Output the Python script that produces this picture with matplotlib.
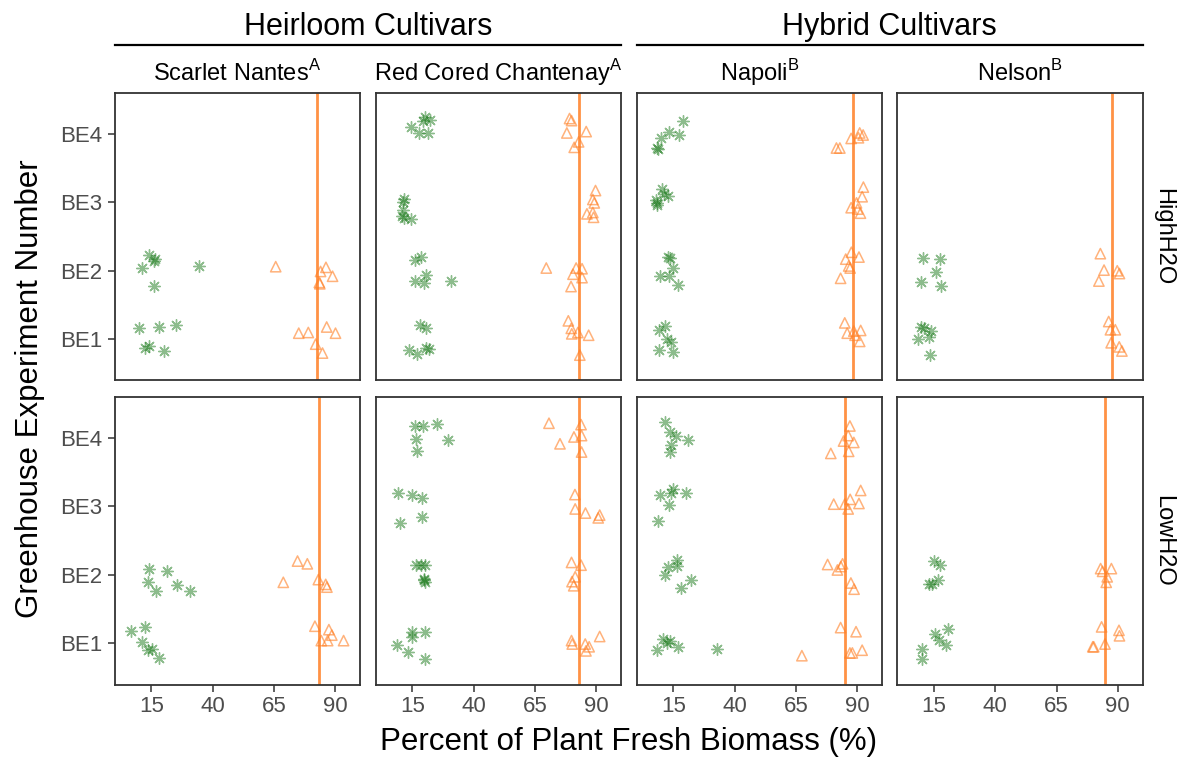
import matplotlib
matplotlib.use("Agg")
import matplotlib.pyplot as plt
from matplotlib.lines import Line2D

plt.rcParams["font.family"] = ["Liberation Sans", "DejaVu Sans"]
plt.rcParams["mathtext.fontset"] = "custom"
plt.rcParams["mathtext.rm"] = "Liberation Sans"

# ---- categories ----
cultivars = ["Scarlet Nantes", "Red Cored Chantenay", "Napoli", "Nelson"]
cultivar_group = ["A", "A", "B", "B"]
cultivar_type = ["Heirloom Cultivars", "Hybrid Cultivars"]
treatments = ["HighH2O", "LowH2O"]
experiments = ["BE1", "BE2", "BE3", "BE4"]
x_ticks = [15, 40, 65, 90]

# ---- mean root percentage per panel (vertical reference lines) ----
root_mean_high = [82.5, 82.9, 88.3, 87.5]
root_mean_low = [83.3, 83.1, 85.2, 84.9]

# ---- tops (green) and roots (orange) percentages, jittered experiment position ----
# Scarlet Nantes, HighH2O
sn_high_tops_x = [13.9, 16.5, 16.1, 11.1, 34.3, 15.9, 10.0, 18.1, 25.1, 12.5, 14.1, 20.0]
sn_high_tops_y = [2.23, 2.17, 2.14, 2.04, 2.07, 1.78, 1.17, 1.18, 1.21, 0.88, 0.91, 0.83]
sn_high_roots_x = [65.7, 86.2, 84.0, 88.9, 83.5, 83.7, 75.1, 79.0, 86.5, 90.1, 82.0, 84.8]
sn_high_roots_y = [2.06, 2.05, 1.99, 1.92, 1.83, 1.81, 1.09, 1.10, 1.18, 1.09, 0.93, 0.80]

# Red Cored Chantenay, HighH2O
rc_high_tops_x = [14.5, 20.3, 19.2, 22.1, 17.6, 21.2, 11.5, 11.2, 11.1, 10.8, 11.5, 14.2,
                  16.2, 18.5, 20.6, 16.2, 19.8, 30.6, 17.9, 20.6, 13.5, 16.9, 20.7, 21.7]
rc_high_tops_y = [4.10, 4.24, 4.18, 4.20, 4.01, 4.01, 3.05, 3.01, 2.89, 2.80, 2.77, 2.76,
                  2.16, 2.20, 1.94, 1.85, 1.82, 1.85, 1.21, 1.17, 0.85, 0.79, 0.87, 0.86]
rc_high_roots_x = [79.1, 79.9, 78.0, 85.9, 82.8, 81.0, 89.7, 88.6, 89.2, 88.6, 86.2, 88.9,
                   69.6, 81.8, 84.2, 80.5, 84.2, 79.7, 78.6, 79.8, 80.0, 82.5, 86.9, 83.3]
rc_high_roots_y = [4.22, 4.19, 4.01, 4.03, 3.88, 3.80, 3.17, 3.04, 2.99, 2.85, 2.83, 2.78,
                   2.04, 2.04, 2.03, 1.95, 1.90, 1.77, 1.27, 1.16, 1.08, 1.10, 1.06, 0.77]

# Napoli, HighH2O
na_high_tops_x = [18.8, 13.0, 17.4, 10.0, 8.4, 8.8, 10.5, 11.1, 12.7, 7.7, 8.4, 8.4,
                  12.6, 13.4, 14.9, 9.6, 13.2, 17.0, 11.7, 8.9, 12.4, 14.1, 9.0, 15.0]
na_high_tops_y = [4.18, 4.03, 3.98, 3.93, 3.79, 3.78, 3.19, 3.12, 3.09, 3.03, 2.99, 2.96,
                  2.20, 2.18, 2.04, 1.92, 1.93, 1.79, 1.19, 1.13, 1.00, 0.96, 0.84, 0.82]
na_high_roots_x = [91.0, 92.4, 90.5, 87.5, 81.5, 82.9, 92.5, 92.0, 89.7, 87.5, 90.2, 91.3,
                   87.6, 85.3, 90.7, 86.5, 87.1, 83.2, 84.9, 85.9, 88.6, 89.1, 91.4, 91.0]
na_high_roots_y = [4.01, 3.98, 3.94, 3.93, 3.79, 3.79, 3.22, 3.08, 2.99, 2.92, 2.90, 2.84,
                   2.27, 2.17, 2.20, 2.07, 2.04, 1.89, 1.24, 1.09, 1.12, 1.06, 1.13, 0.97]

# Nelson, HighH2O
ne_high_tops_x = [10.5, 17.6, 15.7, 9.7, 17.8, 9.6, 11.1, 13.9, 8.5, 13.0, 13.5]
ne_high_tops_y = [2.19, 2.17, 1.98, 1.83, 1.78, 1.18, 1.16, 1.12, 1.01, 1.03, 0.77]
ne_high_roots_x = [82.9, 84.4, 89.8, 90.7, 82.3, 86.3, 87.0, 89.0, 87.3, 90.6, 91.7]
ne_high_roots_y = [2.25, 2.01, 2.00, 1.96, 1.85, 1.26, 1.14, 1.14, 0.95, 0.89, 0.83]

# Scarlet Nantes, LowH2O
sn_low_tops_x = [14.0, 21.5, 13.4, 25.5, 16.9, 30.9, 6.6, 12.4, 11.3, 13.4, 15.3, 18.1]
sn_low_tops_y = [2.09, 2.06, 1.89, 1.85, 1.76, 1.76, 1.18, 1.24, 1.02, 0.90, 0.92, 0.78]
sn_low_roots_x = [74.6, 78.6, 68.8, 83.1, 86.1, 86.6, 81.7, 87.4, 88.6, 84.3, 86.9, 93.4]
sn_low_roots_y = [2.20, 2.16, 1.89, 1.93, 1.86, 1.82, 1.25, 1.20, 1.12, 1.04, 1.04, 1.04]

# Red Cored Chantenay, LowH2O
rc_low_tops_x = [16.2, 19.3, 25.1, 16.4, 29.5, 16.8, 9.0, 14.6, 18.7, 18.8, 9.8,
                 16.5, 18.5, 20.3, 19.5, 19.9, 19.7, 14.7, 14.7, 20.2, 8.8, 13.1, 20.2]
rc_low_tops_y = [4.17, 4.17, 4.20, 3.98, 3.97, 3.80, 3.19, 3.16, 3.12, 2.85, 2.76,
                 2.15, 2.15, 2.14, 1.94, 1.90, 1.92, 1.17, 1.09, 1.17, 0.98, 0.87, 0.77]
rc_low_roots_x = [70.7, 83.8, 80.9, 84.0, 75.2, 84.0, 81.3, 81.4, 85.6, 91.4, 90.8,
                  79.9, 83.8, 81.4, 80.1, 80.8, 91.4, 79.9, 80.2, 85.5, 87.1, 85.8]
rc_low_roots_y = [4.21, 4.19, 4.01, 4.03, 3.91, 3.79, 3.17, 2.96, 2.90, 2.87, 2.83,
                  2.18, 2.14, 1.97, 1.90, 1.84, 1.10, 1.04, 0.99, 0.99, 0.95, 0.89]

# Napoli, LowH2O
na_low_tops_x = [11.6, 13.5, 15.9, 21.0, 14.0, 13.4, 14.7, 13.9, 9.4, 19.9, 13.2, 8.8,
                 16.4, 16.6, 12.7, 11.5, 22.2, 18.2, 10.8, 13.5, 12.4, 17.0, 8.1, 32.7]
na_low_tops_y = [4.23, 4.08, 4.02, 3.97, 3.89, 3.79, 3.25, 3.19, 3.17, 3.20, 3.02, 2.79,
                 2.21, 2.13, 2.11, 2.00, 1.92, 1.81, 1.07, 1.04, 1.00, 0.95, 0.90, 0.92]
na_low_roots_x = [87.0, 86.3, 84.4, 88.6, 86.5, 79.2, 91.4, 87.1, 84.9, 80.4, 90.7, 86.3,
                  77.9, 84.0, 81.9, 83.3, 87.4, 88.7, 83.2, 89.5, 92.0, 87.0, 88.0, 67.4]
na_low_roots_y = [4.17, 4.03, 3.95, 3.93, 3.80, 3.77, 3.23, 3.10, 3.03, 3.03, 3.04, 2.96,
                  2.15, 2.16, 2.07, 2.12, 1.88, 1.79, 1.23, 1.17, 0.90, 0.86, 0.86, 0.82]

# Nelson, LowH2O
ne_low_tops_x = [15.0, 17.3, 16.5, 13.0, 14.2, 20.6, 15.5, 16.9, 20.0, 10.0, 10.0]
ne_low_tops_y = [2.20, 2.15, 1.93, 1.86, 1.86, 1.21, 1.13, 1.05, 0.98, 0.92, 0.77]
ne_low_roots_x = [83.0, 87.4, 83.8, 85.7, 85.3, 83.4, 90.5, 90.7, 84.8, 79.8, 80.2]
ne_low_roots_y = [2.09, 2.09, 2.05, 1.97, 1.89, 1.24, 1.19, 1.11, 0.99, 0.95, 0.95]

panels = {
    ("HighH2O", 0): (sn_high_tops_x, sn_high_tops_y, sn_high_roots_x, sn_high_roots_y),
    ("HighH2O", 1): (rc_high_tops_x, rc_high_tops_y, rc_high_roots_x, rc_high_roots_y),
    ("HighH2O", 2): (na_high_tops_x, na_high_tops_y, na_high_roots_x, na_high_roots_y),
    ("HighH2O", 3): (ne_high_tops_x, ne_high_tops_y, ne_high_roots_x, ne_high_roots_y),
    ("LowH2O", 0): (sn_low_tops_x, sn_low_tops_y, sn_low_roots_x, sn_low_roots_y),
    ("LowH2O", 1): (rc_low_tops_x, rc_low_tops_y, rc_low_roots_x, rc_low_roots_y),
    ("LowH2O", 2): (na_low_tops_x, na_low_tops_y, na_low_roots_x, na_low_roots_y),
    ("LowH2O", 3): (ne_low_tops_x, ne_low_tops_y, ne_low_roots_x, ne_low_roots_y),
}
root_means = {"HighH2O": root_mean_high, "LowH2O": root_mean_low}

# ---- styling ----
W, H = 1181, 759
green = "#1a7a1a"
orange = "#ff7f24"
frame = "#333333"
ticklab = "#4d4d4d"

fig = plt.figure(figsize=(W / 100, H / 100), dpi=100)

col_left = [114.5, 375.5, 636.5, 897.0]
panel_w = 245.5
row_top = [92.5, 396.5]
panel_h = 288.0

asterisk = (8, 2, 0)

axes = {}
for r, trt in enumerate(treatments):
    for c in range(4):
        ax = fig.add_axes([col_left[c] / W, 1 - (row_top[r] + panel_h) / H,
                           panel_w / W, panel_h / H])
        axes[(r, c)] = ax
        tx, ty, rx, ry = panels[(trt, c)]
        ax.axvline(root_means[trt][c], color=orange, lw=2.0, alpha=0.85, zorder=1)
        ax.scatter(tx, ty, marker=asterisk, s=70, color=green, alpha=0.5,
                   linewidths=1.0, zorder=3)
        ax.scatter(rx, ry, marker="^", s=55, facecolors="none", edgecolors=orange,
                   alpha=0.6, linewidths=1.1, zorder=3)
        ax.set_xlim(-0.1, 100.1)
        ax.set_ylim(0.4, 4.6)
        ax.set_xticks(x_ticks)
        ax.set_yticks(range(1, 5))
        for s in ax.spines.values():
            s.set_color(frame)
            s.set_linewidth(1.3)
        ax.tick_params(direction="out", length=5, width=1.1, color=frame,
                       labelcolor=ticklab, labelsize=16, pad=3.5)
        if r == 1:
            ax.set_xticklabels([str(v) for v in x_ticks])
        else:
            ax.tick_params(axis="x", length=0, labelbottom=False)
        if c == 0:
            ax.set_yticklabels(experiments)
        else:
            ax.tick_params(axis="y", length=0, labelleft=False)

# column strips
for c in range(4):
    cx = (col_left[c] + panel_w / 2) / W
    fig.text(cx, 1 - 73 / H, cultivars[c] + r"$^{\mathrm{" + cultivar_group[c] + "}}$",
             ha="center", va="center", fontsize=17, color="black")

# row strips
for r, trt in enumerate(treatments):
    cy = 1 - (row_top[r] + panel_h / 2) / H
    fig.text(1163 / W, cy, trt, rotation=-90, ha="center", va="center",
             fontsize=17, color="black")

# cultivar type headers with rules
spans = [(col_left[0], col_left[1] + panel_w), (col_left[2], col_left[3] + panel_w)]
for (x0, x1), label in zip(spans, cultivar_type):
    fig.add_artist(Line2D([x0 / W, x1 / W], [1 - 45 / H, 1 - 45 / H],
                          color="black", lw=1.6, transform=fig.transFigure))
    fig.text((x0 + x1) / 2 / W, 1 - 27 / H, label, ha="center", va="center",
             fontsize=22, color="black")

# axis titles
fig.text((col_left[0] + col_left[3] + panel_w) / 2 / W, 1 - 742 / H,
         "Percent of Plant Fresh Biomass (%)", ha="center", va="center",
         fontsize=22.5, color="black")
fig.text(30 / W, 1 - (row_top[0] + row_top[1] + panel_h) / 2 / H,
         "Greenhouse Experiment Number", rotation=90, ha="center", va="center",
         fontsize=22.5, color="black")

fig.savefig("out.png", dpi=100)
